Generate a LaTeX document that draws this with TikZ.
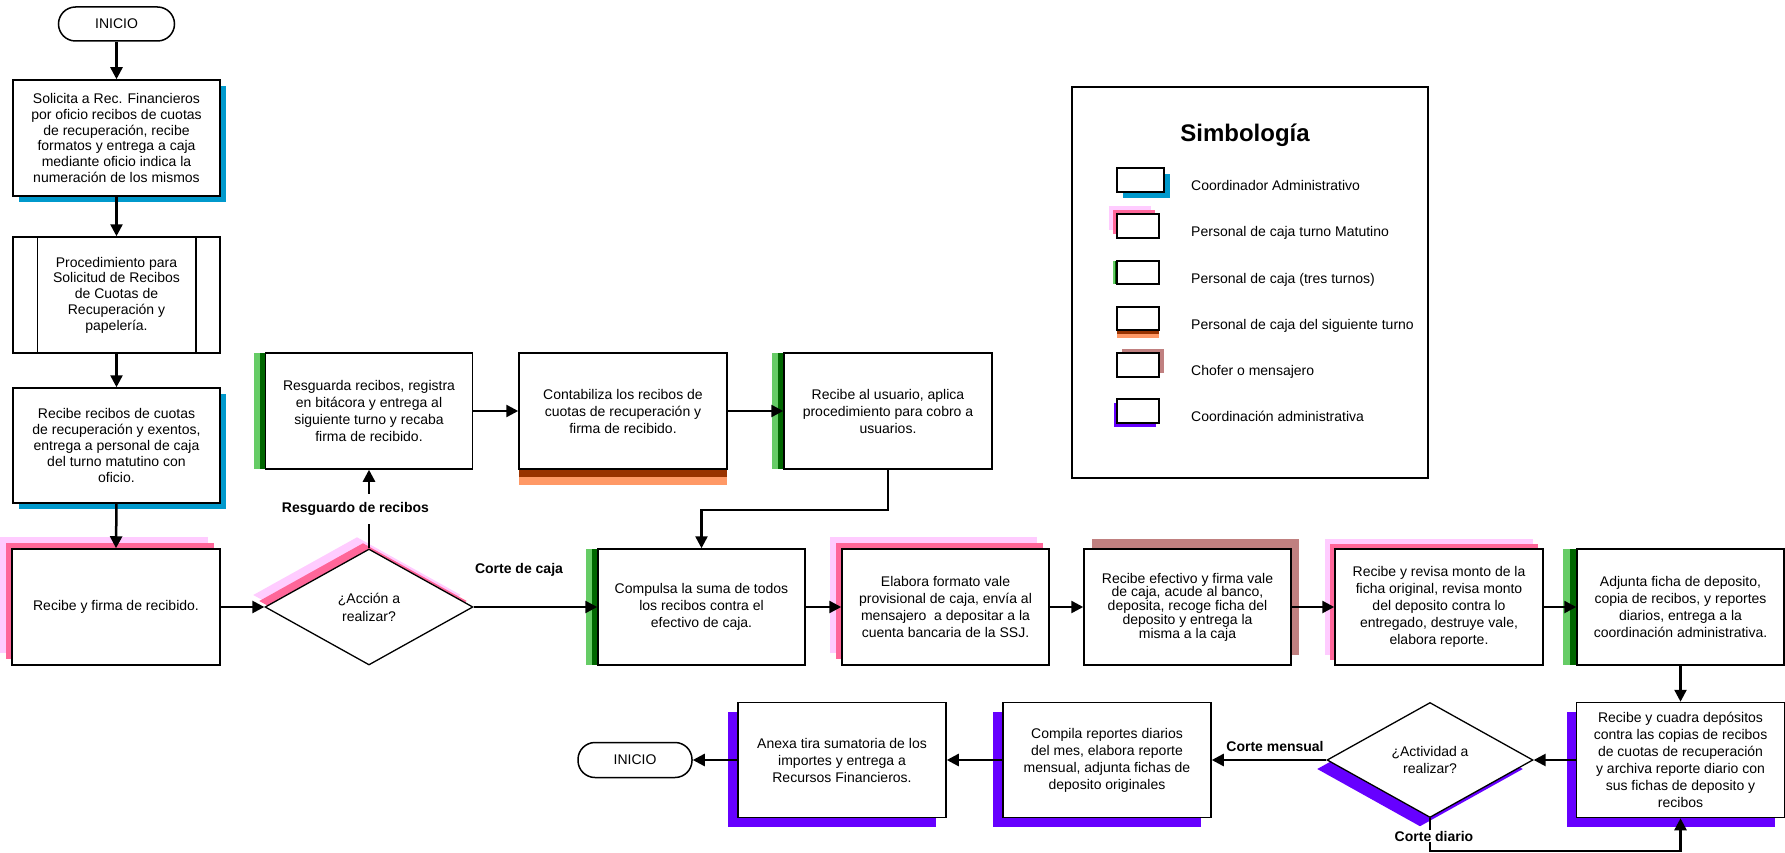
\documentclass[tikz,border=0pt]{standalone}
\usepackage{fontspec}
\setmainfont{Liberation Sans}
\usetikzlibrary{shapes.geometric,shadows,arrows.meta,calc}
\definecolor{cblue}{HTML}{0099CC}
\definecolor{pinkl}{HTML}{FFCCFF}
\definecolor{pinkd}{HTML}{FF6699}
\definecolor{greenl}{HTML}{66CC66}
\definecolor{greend}{HTML}{006600}
\definecolor{brownd}{HTML}{993300}
\definecolor{orangel}{HTML}{FF9966}
\definecolor{rosy}{HTML}{C08080}
\definecolor{purp}{HTML}{6600FF}
\newcommand\fsA{\fontsize{14pt}{15.8pt}\selectfont}
\newcommand\fsB{\fontsize{14pt}{17pt}\selectfont}
\newcommand\fsC{\fontsize{14pt}{13.8pt}\selectfont}
\newcommand\fsD{\fontsize{14pt}{18pt}\selectfont}
\tikzset{
  box/.style={draw=black, line width=1.5pt, fill=white, minimum width=207pt, minimum height=116pt, inner sep=0pt, align=center, font=\fsB},
  dia/.style={draw=black, line width=1.3pt, fill=white, shape=diamond, minimum width=208pt, minimum height=116pt, inner sep=0pt, align=center, font=\fsD},
  term/.style={draw=black, line width=1.5pt, fill=white, rounded corners=17pt, minimum width=116pt, minimum height=34pt, inner sep=0pt, font=\fsB},
  sbox/.style={draw=black, line width=1.5pt, fill=white, minimum width=42pt, minimum height=24pt, inner sep=0pt},
  shCoord/.style={general shadow={draw=none, fill=cblue, shadow xshift=#1pt, shadow yshift=-#1pt}},
  shMat/.style={general shadow={draw=none, fill=pinkl, shadow xshift=-2*#1pt, shadow yshift=2*#1pt},
                general shadow={draw=none, fill=pinkd, shadow xshift=-#1pt, shadow yshift=#1pt}},
  shTres/.style={general shadow={draw=none, fill=greenl, shadow xshift=-2*#1pt},
                 general shadow={draw=none, fill=greend, shadow xshift=-#1pt}},
  shSig/.style={general shadow={draw=none, fill=orangel, shadow yshift=-2*#1pt},
                general shadow={draw=none, fill=brownd, shadow yshift=-#1pt}},
  shChof/.style 2 args={general shadow={draw=none, fill=rosy, shadow xshift=#1pt, shadow yshift=#2pt}},
  shAdm/.style 2 args={general shadow={draw=none, fill=purp, shadow xshift=-#1pt, shadow yshift=-#2pt}},
  arr/.style={line width=2.5pt, -{Triangle[length=12pt,width=12pt]}},
  lbl/.style={font=\fsB\bfseries, inner sep=1pt},
  ltxt/.style={font=\fsB, anchor=base west, inner sep=0pt}
}
\begin{document}
\begin{tikzpicture}[x=1pt,y=-1pt]
\useasboundingbox (0,0) rectangle (1785,853);

% legend
\node[draw=black, line width=2pt, minimum width=356pt, minimum height=391pt, inner sep=0pt] (leg) at (1250,282.5) {};
\node[font=\fontsize{24pt}{28pt}\selectfont\bfseries, anchor=base, inner sep=0pt] (legt) at (1245,141.5) {Simbología};
\node[sbox, minimum width=47pt, shCoord=6] (l1) at (1140.5,180) {};
\node[sbox, shMat=4] (l2) at (1138,226) {};
\node[sbox, minimum height=23pt, shTres=2] (l3) at (1138,272.5) {};
\node[sbox, minimum height=23pt, shSig=4] (l4) at (1138,318.5) {};
\node[sbox, shChof={5}{4}] (l5) at (1138,365) {};
\node[sbox, shAdm={3}{4}] (l6) at (1138,411) {};
\node[ltxt] (t1) at (1191,190.5) {Coordinador Administrativo};
\node[ltxt] (t2) at (1191,236.5) {Personal de caja turno Matutino};
\node[ltxt] (t3) at (1191,283) {Personal de caja (tres turnos)};
\node[ltxt] (t4) at (1191,329.5) {Personal de caja del siguiente turno};
\node[ltxt] (t5) at (1191,375.5) {Chofer o mensajero};
\node[ltxt] (t6) at (1191,421.5) {Coordinación administrativa};

% left column
\node[term] (ini1) at (116.5,24) {INICIO};
\node[box, font=\fsA, shCoord=6] (b1) at (116.5,138) {Solicita a Rec. Financieros\\por oficio recibos de cuotas\\de recuperación, recibe\\formatos y entrega a caja\\mediante oficio indica la\\numeración de los mismos};
\node[box, font=\fsA] (b2) at (116.5,295) {Procedimiento para\\Solicitud de Recibos\\de Cuotas de\\Recuperación y\\papelería.};
\draw[line width=1.5pt] ([xshift=25pt]b2.north west) -- ([xshift=25pt]b2.south west);
\draw[line width=1.5pt] ([xshift=-25pt]b2.north east) -- ([xshift=-25pt]b2.south east);
\node[box, font=\fsA, minimum height=115pt, shCoord=6] (b3) at (116.5,445.5) {Recibe recibos de cuotas\\de recuperación y exentos,\\entrega a personal de caja\\del turno matutino con\\oficio.};
\node[box, minimum width=208pt, shMat=6] (b4) at (116,607) {Recibe y firma de recibido.};

% decision 1
\node[dia, shMat=6] (d1) at (369,607) {¿Acción a\\realizar?};

% upper row
\node[box, shTres=6] (b5) at (369,411) {Resguarda recibos, registra\\en bitácora y entrega al\\siguiente turno y recaba\\firma de recibido.};
\node[box, minimum width=208pt, shSig=8] (b6) at (623,411) {Contabiliza los recibos de\\cuotas de recuperación y\\firma de recibido.};
\node[box, minimum width=208pt, shTres=6] (b7) at (888,411) {Recibe al usuario, aplica\\procedimiento para cobro a\\usuarios.};

% middle row
\node[box, shTres=6] (b8) at (701.5,607) {Compulsa la suma de todos\\los recibos contra el\\efectivo de caja.};
\node[box, shMat=6] (b9) at (945.5,607) {Elabora formato vale\\provisional de caja, envía al\\mensajero\ \ a depositar a la\\cuenta bancaria de la SSJ.};
\node[box, font=\fsC, shChof={8}{10}] (b10) at (1187.5,607) {Recibe efectivo y firma vale\\de caja, acude al banco,\\deposita, recoge ficha del\\deposito y entrega la\\misma a la caja};
\node[box, minimum width=208pt, shMat=5] (b11) at (1439,607) {Recibe y revisa monto de la\\ficha original, revisa monto\\del deposito contra lo\\entregado, destruye vale,\\elabora reporte.};
\node[box, shTres=7] (b12) at (1680.5,607) {Adjunta ficha de deposito,\\copia de recibos, y reportes\\diarios, entrega a la\\coordinación administrativa.};

% bottom row
\node[box, minimum width=208pt, minimum height=115pt, shAdm={10}{9}] (b13) at (1680.5,760) {Recibe y cuadra depósitos\\contra las copias de recibos\\de cuotas de recuperación\\y archiva reporte diario con\\sus fichas de deposito y\\recibos};
\node[dia, minimum width=206pt, minimum height=115pt, font=\fsB, shAdm={10}{9}] (d2) at (1430,760) {¿Actividad a\\realizar?};
\node[box, minimum width=208pt, minimum height=115pt, shAdm={10}{9}] (b14) at (1107,760) {Compila reportes diarios\\del mes, elabora reporte\\mensual, adjunta fichas de\\deposito originales};
\node[box, minimum width=208pt, minimum height=115pt, shAdm={10}{9}] (b15) at (842,760) {Anexa tira sumatoria de los\\importes y entrega a\\Recursos Financieros.};
\node[term, minimum width=114pt, minimum height=35pt] (ini2) at (635,760) {INICIO};

% connectors
\draw[arr] (ini1.south) -- (b1.north);
\draw[arr] (b1.south) -- (b2.north);
\draw[arr] (b2.south) -- (b3.north);
\draw[arr] (b3.south) -- (b4.north);
\draw[arr] (b4.east) -- (d1.west);
\draw[arr] (d1.north) -- (b5.south);
\node[lbl, fill=white, inner ysep=8pt] (lres) at (355.5,509) {Resguardo de recibos};
\draw[arr] (b5.east) -- (b6.west);
\draw[arr] (b6.east) -- (b7.west);
\draw[arr] (b7.south) -- ++(0,40) -| (b8.north);
\draw[arr] (d1.east) -- (b8.west);
\node[lbl] (lcaja) at (519,570) {Corte de caja};
\draw[arr] (b8.east) -- (b9.west);
\draw[arr] (b9.east) -- (b10.west);
\draw[arr] (b10.east) -- (b11.west);
\draw[arr] (b11.east) -- (b12.west);
\draw[arr] (b12.south) -- (b13.north);
\draw[arr] (b13.west) -- (d2.east);
\draw[arr] (d2.west) -- (b14.east);
\node[lbl] (lmen) at (1275,746) {Corte mensual};
\draw[arr] (b14.west) -- (b15.east);
\draw[arr] (b15.west) -- (ini2.east);
\draw[arr] (d2.south) -- ++(0,33) -| (b13.south);
\node[lbl, fill=white] (ldia) at (1434,836) {Corte diario};
\end{tikzpicture}
\end{document}
